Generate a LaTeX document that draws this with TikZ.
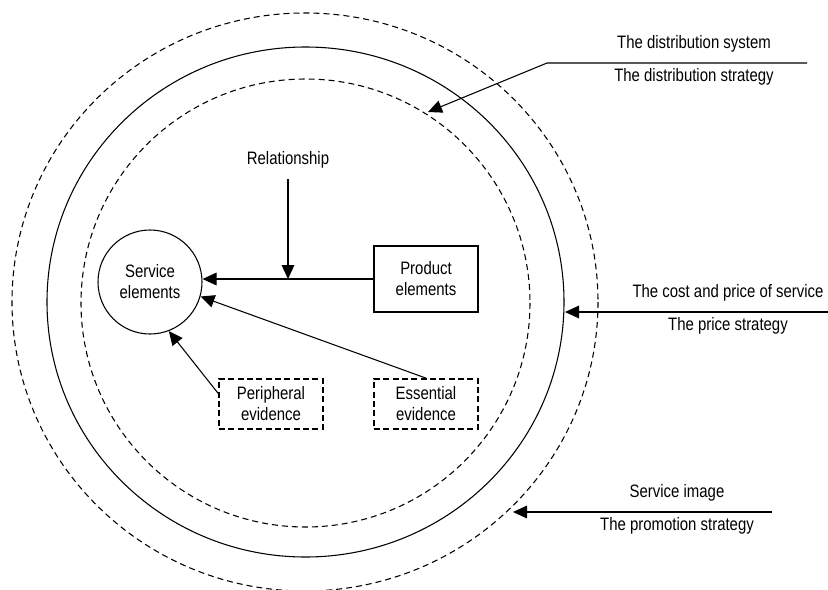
\documentclass[tikz,border=0pt]{standalone}
\usepackage{fontspec}
\setmainfont[FakeStretch=0.83]{Liberation Sans}
\usetikzlibrary{arrows.meta,positioning,shapes}

\begin{document}
\begin{tikzpicture}[x=0.75pt, y=-0.75pt, auto]
    % Define styles
    \tikzstyle{ring} = [line width=0.8pt]
    \tikzstyle{dashring} = [line width=0.8pt, dash pattern=on 4.5pt off 3pt]
    \tikzstyle{element} = [draw, line width=0.8pt, align=center, font=\fontsize{13.5}{15.75}\selectfont]
    \tikzstyle{evidence} = [element, line width=1.3pt, dash pattern=on 4.5pt off 2.5pt, minimum width=78pt, minimum height=37.5pt]
    \tikzstyle{strategy} = [font=\fontsize{13.5}{15.75}\selectfont, inner sep=0pt, anchor=base]
    \tikzstyle{arrow} = [line width=0.8pt, -{Triangle[length=10.5pt,width=9.5pt]}]

    \useasboundingbox (0,0) rectangle (828,589);

    % Rings
    \draw [dashring] (305,302) ellipse (293 and 289);
    \draw [ring] (305.5,302) ellipse (258.5 and 255);
    \draw [dashring] (305.5,303) ellipse (224.5 and 224);

    % Nodes
    \node [element, circle, minimum size=78pt] (serv) at (150,282) {Service\\elements};
    \node [element, minimum width=78pt, minimum height=49.5pt] (prod) at (426,279) {Product\\elements};
    \node [evidence] (peri) at (271,404) {Peripheral\\evidence};
    \node [evidence] (ess) at (426,404) {Essential\\evidence};
    \node [inner sep=8pt, font=\fontsize{13.5}{15.75}\selectfont] (rel) at (288,160) {Relationship};

    % Strategy labels
    \node [strategy] (dsys) at (694,48) {The distribution system};
    \node [strategy] (dstr) at (694,81.5) {The distribution strategy};
    \node [strategy] (csys) at (728,297) {The cost and price of service};
    \node [strategy] (cstr) at (728,330.5) {The price strategy};
    \node [strategy] (isys) at (677,497) {Service image};
    \node [strategy] (istr) at (677,530.5) {The promotion strategy};

    \coordinate (dsR) at (807,63);
    \coordinate (dsL) at (547,63);
    \coordinate (dtip) at (428,112);
    \coordinate (cR) at (828,312);
    \coordinate (ctip) at (565,312);
    \coordinate (iR) at (772,512);
    \coordinate (itip) at (513,512);

    % Arrows
    \draw [arrow] (prod.west) -- (prod.west -| serv.east);
    \draw [arrow] (rel) -- (rel |- prod.west);
    \draw [arrow] (ess.north) -- (serv.-16);
    \draw [arrow] ([yshift=8pt]peri.west) -- (serv.-69);
    \draw [arrow] (dsR) -- (dsL) -- (dtip);
    \draw [arrow] (cR) -- (ctip);
    \draw [arrow] (iR) -- (itip);

\end{tikzpicture}
\end{document}
